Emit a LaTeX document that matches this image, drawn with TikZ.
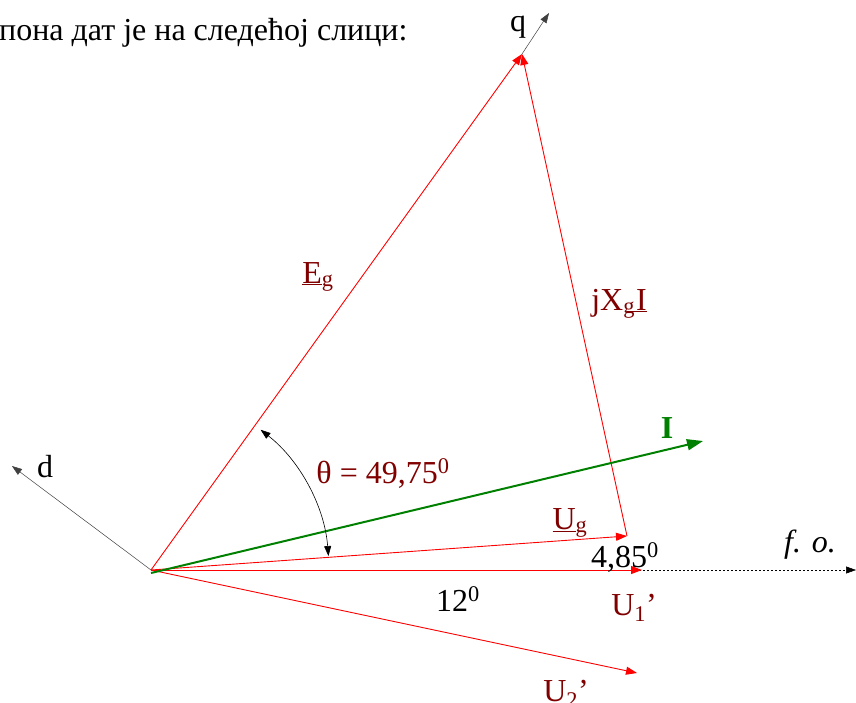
\documentclass[tikz,border=0pt]{standalone}
\usepackage{fontspec}
\setmainfont{Liberation Serif}
\usetikzlibrary{arrows.meta}
\definecolor{labelred}{RGB}{128,0,0}
\definecolor{phasorgreen}{RGB}{0,128,0}
\begin{document}
\begin{tikzpicture}[
		x=1pt, y=1pt,
		every node/.style={
			inner sep=0pt,
			anchor=base,
			font=\fontsize{32}{36}\selectfont
		},
		phasor/.style={draw=red, line width=0.9pt, -{Triangle[length=11pt,width=8pt]}},
		current/.style={draw=phasorgreen, line width=2pt, -{Triangle[length=16pt,width=11pt]}},
		axis/.style={draw=black!75, line width=0.5pt, -{Triangle[length=10pt,width=7pt]}},
		refaxis/.style={draw=black, line width=0.5pt, dashed, dash pattern=on 2pt off 2pt, -{Triangle[length=10pt,width=7pt]}},
		angarc/.style={draw=black, line width=0.6pt, {Triangle[length=10pt,width=7pt]}-{Triangle[length=10pt,width=7pt]}},
		vlabel/.style={text=labelred},
		alabel/.style={text=black}
		]
		\useasboundingbox (0,0) rectangle (856,-702);
		
		\node[anchor=base west] (caption) at (-1,-40) {пона дат је на следећој слици:};
		
		% points of the phasor diagram
		\coordinate (O) at (151,-570);
		\coordinate (Eg) at (522,-54);
		\coordinate (Ug) at (627,-536);
		\coordinate (U1) at (642,-570);
		\coordinate (U2) at (637,-673);
		\coordinate (I) at (703,-441);
		\coordinate (q) at (549,-13);
		\coordinate (d) at (12,-466);
		\coordinate (fo) at (856,-570);
		
		% axes
		\draw[axis] (Eg) -- (q);
		\draw[axis] (O) -- (d);
		\draw[refaxis] (O) -- (fo);
		
		% phasors
		\draw[phasor] (O) -- (Eg);
		\draw[phasor] (Ug) -- (Eg);
		\draw[phasor] (O) -- (Ug);
		\draw[phasor] (O) -- (U1);
		\draw[phasor] (O) -- (U2);
		\draw[current] ([yshift=-3pt]O) -- (I);
		
		\draw[angarc] ([shift={(4.5:178)}]O) arc[start angle=4.5, end angle=52, radius=178];
		
		% labels
		\node (qlab) at (518,-31) {q};
		\node (dlab) at (45,-477) {d};
		\node[vlabel] (Eglab) at (318,-283) {\underline{E}\textsubscript{g}};
		\node[vlabel] (jXlab) at (619,-310) {jX\textsubscript{g}\kern-8pt\underline{\kern9pt I}};
		\node[vlabel] (thlab) at (383,-483) {θ = 49,75\textsuperscript{0}};
		\node[text=phasorgreen, font=\fontsize{32}{36}\selectfont\bfseries] (Ilab) at (667,-438) {I};
		\node[vlabel] (Uglab) at (570,-529) {\underline{U}\textsubscript{g}};
		\node[alabel] (alab) at (625,-567) {4,85\textsuperscript{0}};
		\node[alabel] (blab) at (458,-611) {12\textsuperscript{0}};
		\node[vlabel] (U1lab) at (634,-615) {U\textsubscript{1}'};
		\node[alabel] (folab) at (810,-552) {\textit{f. o.}};
		\node[vlabel] (U2lab) at (566,-701) {U\textsubscript{2}’};
	\end{tikzpicture}
\end{document}
